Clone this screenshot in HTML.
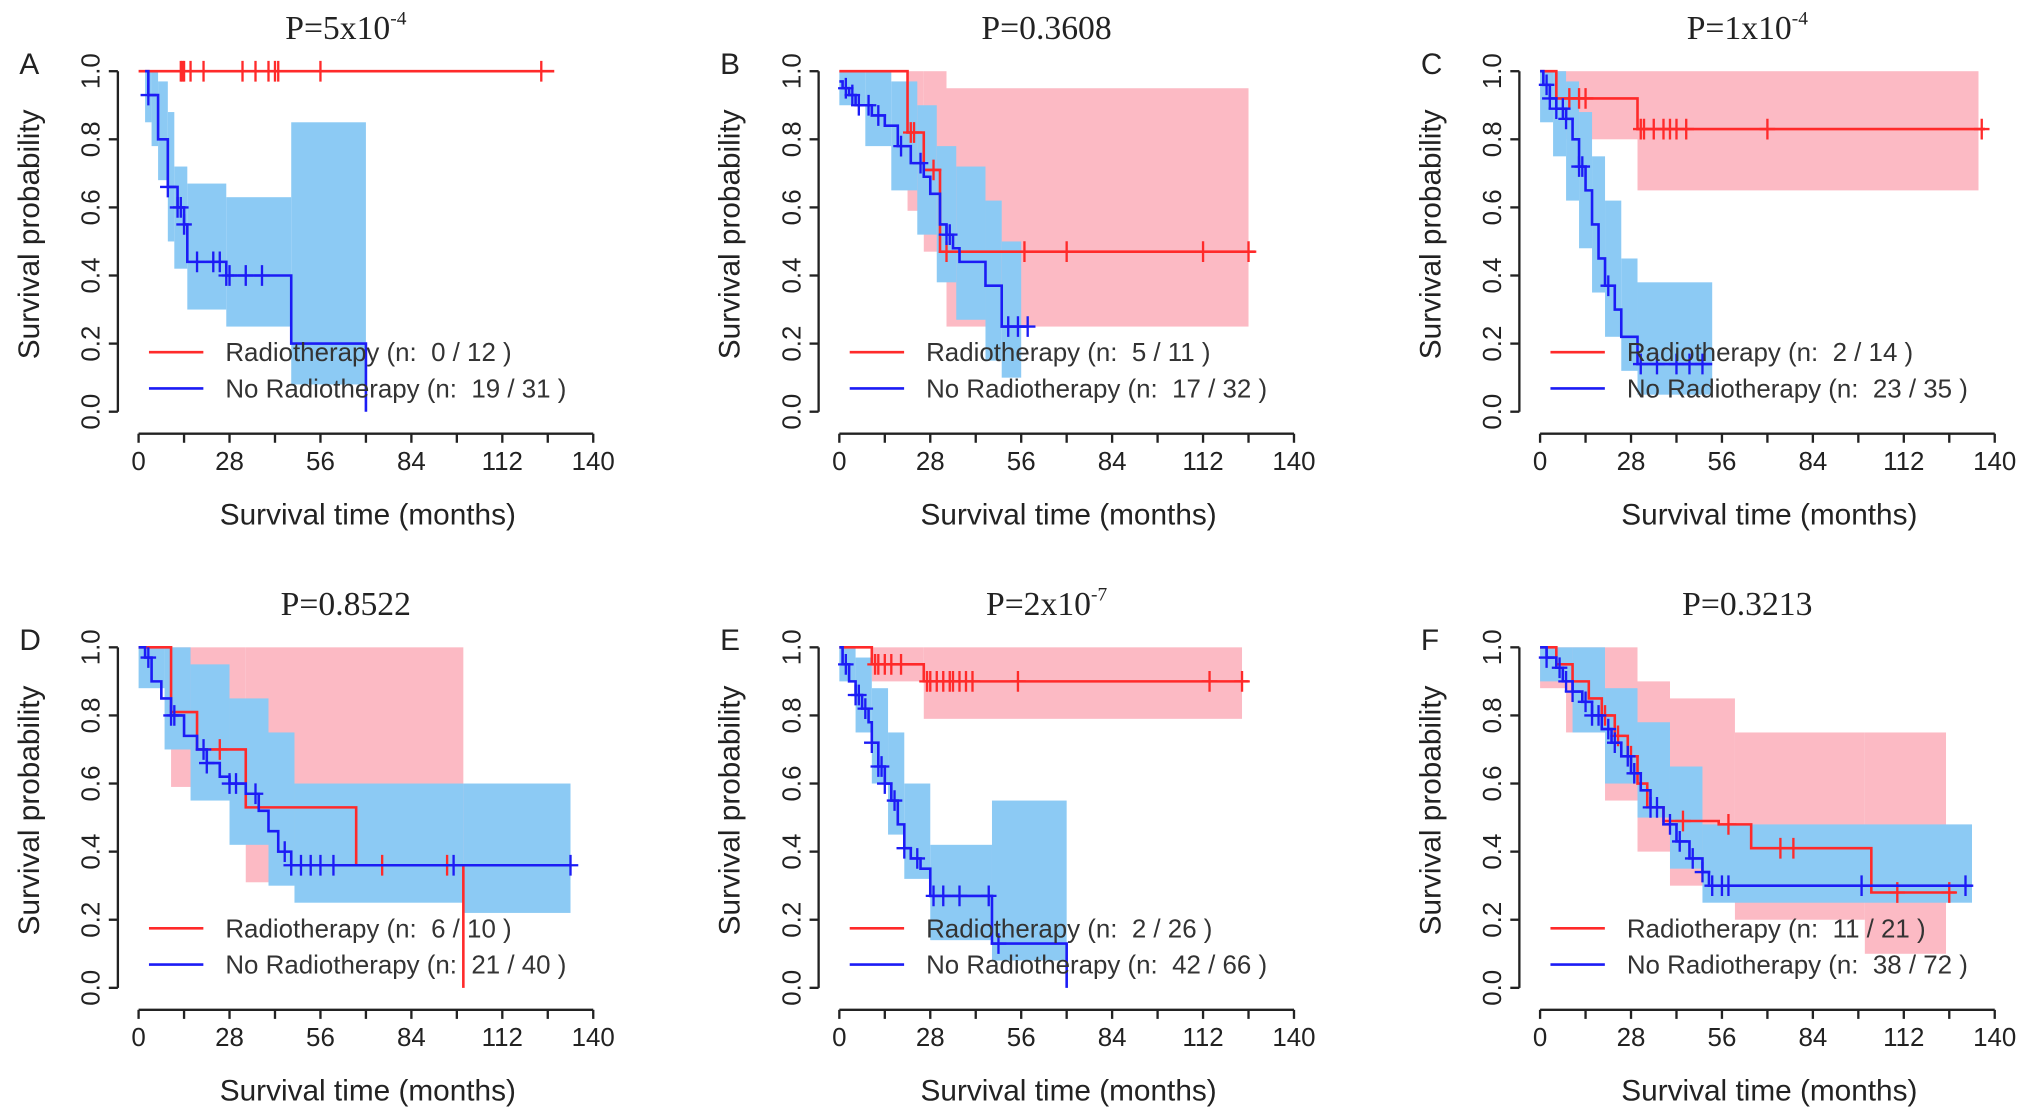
<!DOCTYPE html>
<html><head><meta charset="utf-8"><style>
html,body{margin:0;padding:0;background:#fff;}
svg{display:block;}
text{font-family:"Liberation Sans",sans-serif;white-space:pre;}
text.serif{font-family:"Liberation Serif",serif;}
</style></head><body>
<svg id="fig" width="2031" height="1116" viewBox="0 0 1568 862" preserveAspectRatio="none" xmlns="http://www.w3.org/2000/svg"></svg>
<script>
// ---- data ----
const panelLetters = ["A","B","C","D","E","F"];
const pTitles = [["5x10","-4"],["0.3608",""],["1x10","-4"],["0.8522",""],["2x10","-7"],["0.3213",""]];
const legendR = ["0 / 12","5 / 11","2 / 14","6 / 10","2 / 26","11 / 21"];
const legendB = ["19 / 31","17 / 32","23 / 35","21 / 40","42 / 66","38 / 72"];
const xTicks = [0,28,56,84,112,140];
const yTicks = [0,0.2,0.4,0.6,0.8,1.0];
const yTickLabels = ["0.0","0.2","0.4","0.6","0.8","1.0"];

// red (radiotherapy) step curves
const redT = [[0],[0,21,26,31],[0,5,30],[0,10,18,33,67,100],[0,10,26],[0,5,10,15,19,23,27,30,33,38,55,65,102]];
const redS = [[1],[1,.82,.71,.47],[1,.92,.83],[1,.81,.7,.53,.36,0],[1,.95,.9],[1,.95,.9,.85,.8,.74,.68,.6,.53,.49,.48,.41,.28]];
const redEnd = [128,128,137,100,126,128];
const redCens = [[13,13.5,14,16,20,32,36,40,42,43,56,124],[22,23,29,33,57,70,112,126],[9,12,14,31,32,35,38,40,42,45,70,136],[25,75,95],[11,12,14,16,19,27,28,30,32,34,35,37,39,41,55,114,124],[20,24,28,44,58,74,78,110,126]];
const redBandT = [[],[21,26,33,126],[5,30,135],[10,33,100],[10,26,124],[0,8,20,30,40,60,100,125]];
const redBandLo = [[],[.59,.47,.25],[.8,.65],[.59,.31],[.9,.79],[.88,.75,.55,.4,.3,.2,.1]];
const redBandHi = [[],[1,1,.95],[1,1],[1,1],[1,1],[1,1,1,.9,.85,.75,.75]];

// blue (no radiotherapy) step curves
const blueT = [[2,3,6,9,12,14,15,27,47,70],[0,1,3,5,10,14,18,22,26,28,31,33,35,37,45,50],[0,1,3,5,8,10,12,14,16,18,20,23,25,30],[0,2,4,7,10,14,18,21,25,28,33,37,40,43,47],[0,1,3,5,7,9,10,12,14,16,18,20,22,25,28,47,70],[0,2,5,7,10,13,16,19,22,25,28,31,34,38,42,46,50,52]];
const blueS = [[1,.93,.8,.66,.6,.55,.44,.4,.2,0],[.97,.95,.93,.9,.87,.84,.78,.73,.69,.64,.55,.52,.48,.44,.37,.25],[1,.96,.92,.89,.86,.8,.72,.65,.55,.45,.37,.3,.22,.14],[1,.97,.9,.85,.8,.74,.7,.66,.62,.6,.57,.52,.46,.4,.36],[1,.95,.9,.86,.82,.78,.72,.65,.6,.55,.48,.41,.38,.35,.27,.13,0],[1,.97,.94,.9,.87,.84,.8,.76,.72,.68,.63,.58,.53,.48,.43,.38,.34,.3]];
const blueEnd = [70,58,53,133,70,133];
const blueCens = [[3,9,12,13,14,18,23,25,27,28,33,38],[2,4,6,9,12,19,25,33,34,52,55,58],[2,3,5,7,8,12,13,21,31,36,42,46,50],[3,10,11,20,21,28,30,36,45,47,50,53,56,60,97,133],[2,5,6,8,10,12,13,14,17,20,24,29,32,37,46,49],[2,6,8,10,14,16,18,21,23,27,29,34,36,40,43,47,50,53,56,58,99,131]];
const blueBandT = [[2,4,6,9,11,15,27,47,70],[0,8,16,24,30,36,45,50,56],[0,4,8,12,16,20,25,30,53],[0,8,16,28,40,48,100,133],[0,5,10,15,20,28,47,70],[0,10,20,30,40,50,133]];
const blueBandLo = [[.85,.78,.68,.5,.42,.3,.25,.08],[.9,.78,.65,.52,.38,.27,.15,.1],[.85,.75,.62,.48,.35,.22,.12,.05],[.88,.7,.55,.42,.3,.25,.22],[.9,.75,.6,.45,.32,.14,.08],[.9,.75,.6,.5,.35,.25]];
const blueBandHi = [[1,1,.97,.88,.72,.67,.63,.85],[1,1,.97,.9,.78,.72,.62,.5],[1,1,.97,.88,.75,.62,.45,.38],[1,1,.95,.85,.75,.6,.6],[1,.97,.88,.75,.6,.42,.55],[1,1,.88,.78,.65,.48]];

// ---- drawing ----
const NS = "http://www.w3.org/2000/svg";
const svg = document.getElementById("fig");
const origins = [[107,55],[648,55],[1189,55],[107,500],[648,500],[1189,500]];
const PW = 351, PH = 263, XMAX = 140;
function mk(tag, attrs, parent){const e=document.createElementNS(NS,tag);for(const k in attrs)e.setAttribute(k,attrs[k]);(parent||svg).appendChild(e);return e;}
function stepAt(T,S,t){let v=S[0];for(let i=0;i<T.length;i++){if(T[i]<=t)v=S[i];}return v;}

for(let p=0;p<6;p++){
  const [ox,oy]=origins[p];
  const X=t=>ox+t/XMAX*PW, Y=s=>oy+(1-s)*PH;
  const g=mk("g",{});
  
  
  function band(T,LO,HI,col,name){
    for(let i=0;i<T.length-1;i++){
      const r=mk("rect",{x:X(T[i]),y:Y(HI[i]),width:X(T[i+1])-X(T[i]),height:Y(LO[i])-Y(HI[i]),fill:col},g);
      
      
    }
  }
  band(redBandT[p],redBandLo[p],redBandHi[p],"#fcbac4","radiotherapy-ci-band");
  band(blueBandT[p],blueBandLo[p],blueBandHi[p],"#8ccaf4","no-radiotherapy-ci-band");
  function curve(T,S,end,C,col,name){
    let d="M"+X(T[0])+" "+Y(S[0]);
    for(let i=1;i<T.length;i++){d+=" H"+X(T[i])+" V"+Y(S[i]);}
    d+=" H"+X(end);
    const pth=mk("path",{d:d,fill:"none",stroke:col,"stroke-width":2},g);
    
    
    C.forEach(t=>{
      const y=Y(stepAt(T,S,t)), x=X(t);
      const c=mk("path",{d:"M"+x+" "+(y-8)+" V"+(y+8)+" M"+(x-6)+" "+y+" H"+(x+6),stroke:col,"stroke-width":1.8},g);
      
      
    });
  }
  curve(redT[p],redS[p],redEnd[p],redCens[p],"#ff2a2a","radiotherapy");
  curve(blueT[p],blueS[p],blueEnd[p],blueCens[p],"#1c1cf5","no-radiotherapy");
  const ya=mk("path",{d:"M"+(ox-16)+" "+Y(1)+" V"+Y(0),stroke:"#222","stroke-width":1.8,fill:"none"},g);
  
  
  yTicks.forEach((v,i)=>{
    mk("path",{d:"M"+(ox-23)+" "+Y(v)+" H"+(ox-16),stroke:"#222","stroke-width":1.8},g);
    const t=mk("text",{x:0,y:0,transform:"translate("+(ox-30)+","+Y(v)+") rotate(-90)","text-anchor":"middle","font-size":20,fill:"#222"},g);
    t.textContent=yTickLabels[i];
    
    
  });
  const xay=oy+PH+17;
  const xa=mk("path",{d:"M"+X(0)+" "+xay+" H"+X(140),stroke:"#222","stroke-width":1.8,fill:"none"},g);
  
  
  for(let m=0;m<=140;m+=14){mk("path",{d:"M"+X(m)+" "+xay+" V"+(xay+7),stroke:"#222","stroke-width":1.8},g);}
  xTicks.forEach(v=>{
    const t=mk("text",{x:X(v),y:xay+28,"text-anchor":"middle","font-size":20,fill:"#222"},g);
    t.textContent=v;
    
    
  });
  const xl=mk("text",{x:ox+177,y:oy+350,"text-anchor":"middle","font-size":23,fill:"#222"},g);
  xl.textContent="Survival time (months)";
  
  
  const yl=mk("text",{x:0,y:0,transform:"translate("+(ox-77)+","+(oy+126)+") rotate(-90)","text-anchor":"middle","font-size":23,fill:"#222"},g);
  yl.textContent="Survival probability";
  
  
  const pl=mk("text",{x:ox-92,y:oy+2,"font-size":23,fill:"#222"},g);
  pl.textContent=panelLetters[p];
  
  
  const ti=mk("text",{x:ox+160,y:oy-25,"text-anchor":"middle","font-size":26,fill:"#222","class":"serif"},g);
  ti.textContent="P="+pTitles[p][0];
  if(pTitles[p][1]){const sp=mk("tspan",{"font-size":15,dy:-11},ti);sp.textContent=pTitles[p][1];}
  
  
  [[legendR[p],"#ff2a2a","Radiotherapy","legend-radiotherapy"],[legendB[p],"#1c1cf5","No Radiotherapy","legend-no-radiotherapy"]].forEach((L,i)=>{
    const ly=oy+217+i*28;
    const lg=mk("g",{},g);
    
    
    mk("path",{d:"M"+(ox+8)+" "+ly+" H"+(ox+50),stroke:L[1],"stroke-width":2},lg);
    const t=mk("text",{x:ox+67,y:ly+7,"font-size":20,fill:"#333"},lg);
    t.textContent=L[2]+" (n:  "+L[0]+" )";
  });
}
</script>
</body></html>
